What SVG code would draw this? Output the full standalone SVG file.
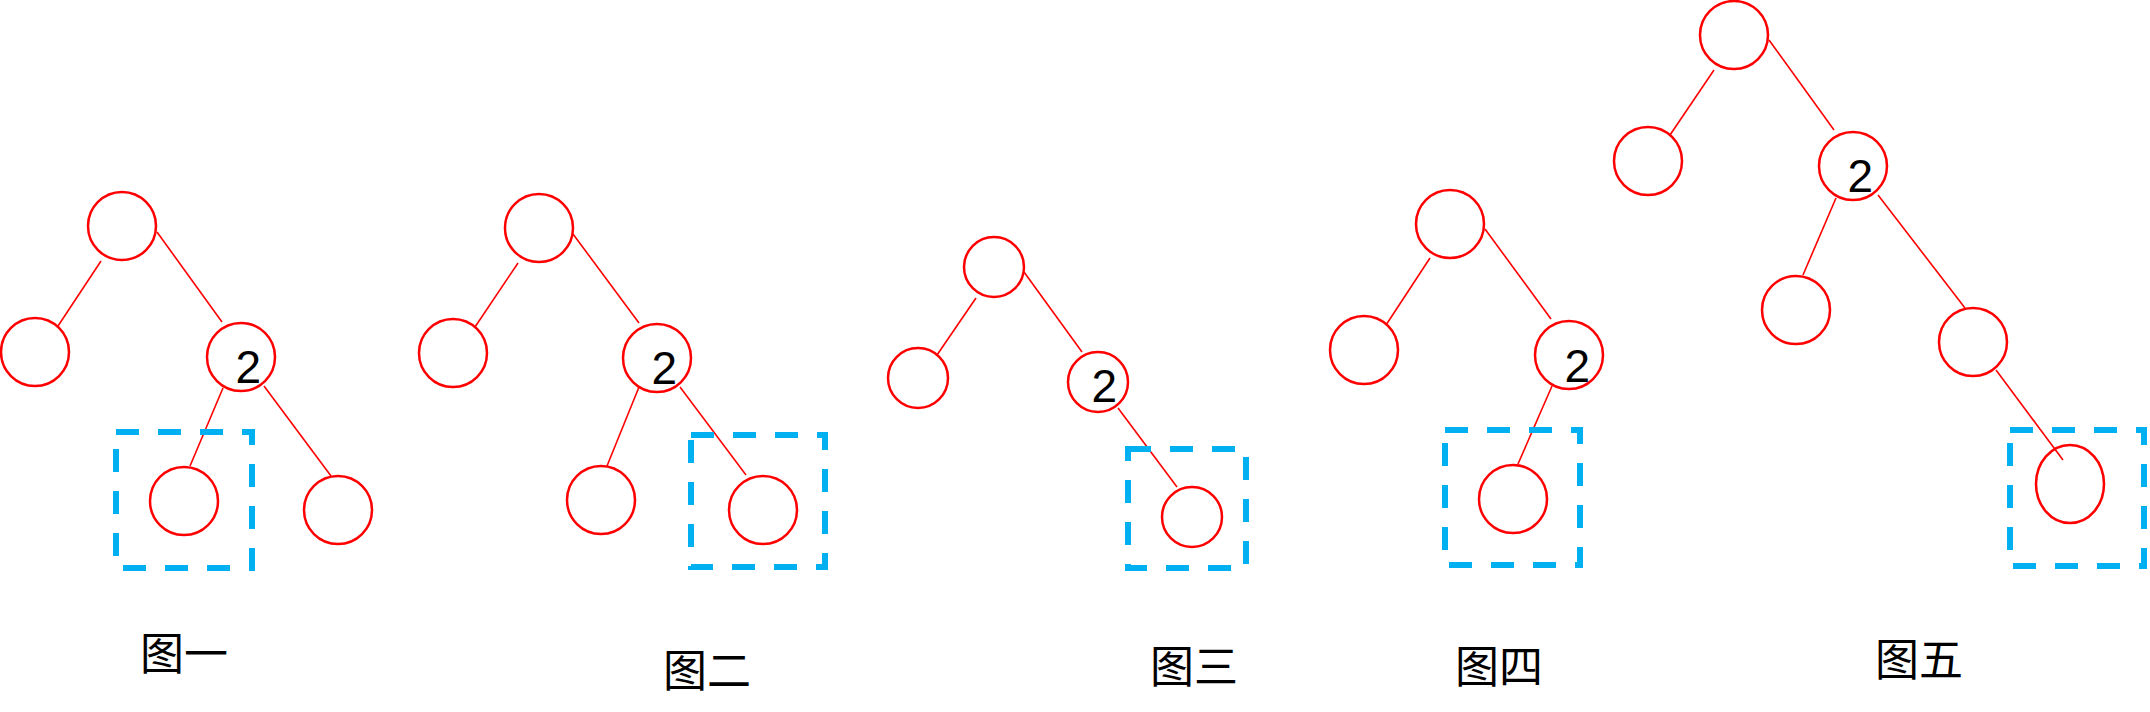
<svg xmlns="http://www.w3.org/2000/svg" width="2150" height="712" viewBox="0 0 2150 712">
<style>
.n{fill:#fff;stroke:#ff0000;stroke-width:2.5}
.e{stroke:#ff0000;stroke-width:1.6;fill:none}
.box{fill:none;stroke:#00b0f0;stroke-width:6;stroke-dasharray:23 19}
.d{font-family:"Liberation Sans",Arial,sans-serif;font-size:46px;fill:#000}
.lbl{font-family:"Noto Sans CJK SC","Noto Sans CJK TC",sans-serif;font-size:44px;fill:#000}
</style>
<rect width="2150" height="712" fill="#fff"/>
<g id="connectors">
<line class="e" x1="101" y1="261" x2="58" y2="326"/>
<line class="e" x1="157" y1="232" x2="222" y2="322"/>
<line class="e" x1="223" y1="388" x2="190" y2="466"/>
<line class="e" x1="264" y1="386" x2="331" y2="476"/>
<line class="e" x1="518" y1="263" x2="475" y2="327"/>
<line class="e" x1="573" y1="234" x2="639" y2="323"/>
<line class="e" x1="639" y1="387" x2="607" y2="466"/>
<line class="e" x1="680" y1="387" x2="746" y2="475"/>
<line class="e" x1="976" y1="298" x2="937" y2="355"/>
<line class="e" x1="1024" y1="272" x2="1082" y2="352"/>
<line class="e" x1="1118" y1="408" x2="1177" y2="487"/>
<line class="e" x1="1430" y1="258" x2="1386" y2="325"/>
<line class="e" x1="1485" y1="229" x2="1551" y2="319"/>
<line class="e" x1="1552" y1="386" x2="1518" y2="464"/>
<line class="e" x1="1714" y1="70" x2="1670" y2="135"/>
<line class="e" x1="1769" y1="40" x2="1834" y2="130"/>
<line class="e" x1="1836" y1="198" x2="1803" y2="275"/>
<line class="e" x1="1878" y1="195" x2="1965" y2="308"/>
</g>
<g id="boxes">
<rect class="box" x="116" y="432" width="136" height="136"/>
<rect class="box" x="691" y="435" width="134" height="132"/>
<rect class="box" x="1128" y="449" width="118" height="119"/>
<rect class="box" x="1445" y="430" width="135" height="135"/>
<rect class="box" x="2010" y="430" width="134" height="136"/>
</g>
<g id="tree1">
<g id="t1-root"><circle class="n" cx="122" cy="226" r="34"/></g>
<g id="t1-left"><circle class="n" cx="35" cy="352" r="34"/></g>
<g id="t1-two"><circle class="n" cx="241" cy="357" r="34"/><text class="d" x="235.5" y="383">2</text></g>
<g id="t1-bl"><circle class="n" cx="184" cy="501" r="34"/></g>
<g id="t1-br"><circle class="n" cx="338" cy="510" r="34"/></g>
</g>
<g id="tree2">
<g id="t2-root"><circle class="n" cx="539" cy="228" r="34"/></g>
<g id="t2-left"><circle class="n" cx="453" cy="353" r="34"/></g>
<g id="t2-two"><circle class="n" cx="657" cy="358" r="34"/><text class="d" x="651.5" y="384">2</text></g>
<g id="t2-bl"><circle class="n" cx="601" cy="500" r="34"/></g>
<g id="t2-br"><circle class="n" cx="763" cy="510" r="34"/></g>
</g>
<g id="tree3">
<g id="t3-root"><circle class="n" cx="994" cy="267" r="30"/></g>
<g id="t3-left"><circle class="n" cx="918" cy="378" r="30"/></g>
<g id="t3-two"><circle class="n" cx="1098" cy="382" r="30"/><text class="d" x="1091.5" y="402">2</text></g>
<g id="t3-child"><circle class="n" cx="1192" cy="517" r="30"/></g>
</g>
<g id="tree4">
<g id="t4-root"><circle class="n" cx="1450" cy="224" r="34"/></g>
<g id="t4-left"><circle class="n" cx="1364" cy="350" r="34"/></g>
<g id="t4-two"><circle class="n" cx="1569" cy="355" r="34"/><text class="d" x="1564.5" y="382">2</text></g>
<g id="t4-child"><circle class="n" cx="1513" cy="499" r="34"/></g>
</g>
<g id="tree5">
<g id="t5-root"><circle class="n" cx="1734" cy="35" r="34"/></g>
<g id="t5-left"><circle class="n" cx="1648" cy="161" r="34"/></g>
<g id="t5-two"><circle class="n" cx="1853" cy="166" r="34"/><text class="d" x="1847.5" y="192">2</text></g>
<g id="t5-bl"><circle class="n" cx="1796" cy="310" r="34"/></g>
<g id="t5-br"><circle class="n" cx="1973" cy="342" r="34"/></g>
<g id="t5-bottom"><ellipse class="n" cx="2070" cy="484" rx="34" ry="39"/></g>
<line class="e" x1="1996" y1="370" x2="2063" y2="460"/>
</g>
<g id="labels">
<text class="lbl" x="140" y="670">图一</text>
<text class="lbl" x="663" y="687">图二</text>
<text class="lbl" x="1150" y="683">图三</text>
<text class="lbl" x="1455" y="683">图四</text>
<text class="lbl" x="1875" y="676">图五</text>
</g>
</svg>
